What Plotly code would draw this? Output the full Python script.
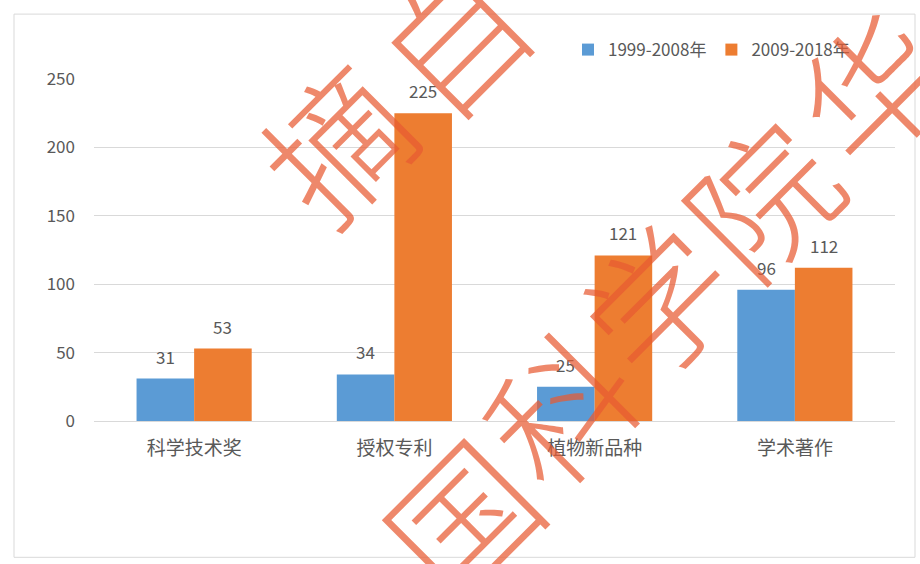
import plotly.graph_objects as go

categories = ["科学技术奖", "授权专利", "植物新品种", "学术著作"]
series_names = ["1999-2008年", "2009-2018年"]
values_1999_2008 = [31, 34, 25, 96]
values_2009_2018 = [53, 225, 121, 112]
y_ticks = [0, 50, 100, 150, 200, 250]
watermark_chars = ["摘", "自", "国", "科", "学", "院", "华"]

W, H = 920, 564
L, R, T, B = 94, 25, 79, 142.5
PW, PH = W - L - R, H - T - B

def px(x):
    return (x - L) / PW

def py(y):
    return (H - B - y) / PH

BLUE = "#5B9BD5"
ORANGE = "#ED7D31"
GRAY = "#595959"
FONT = "Noto Sans CJK SC"

fig = go.Figure()
fig.add_trace(go.Bar(x=categories, y=values_1999_2008, name=series_names[0],
                     marker=dict(color=BLUE, line=dict(width=0))))
fig.add_trace(go.Bar(x=categories, y=values_2009_2018, name=series_names[1],
                     marker=dict(color=ORANGE, line=dict(width=0))))

annotations = []
bar_w = (1 - 0.425) / 2
for i, (a, b) in enumerate(zip(values_1999_2008, values_2009_2018)):
    for off, v in ((-bar_w / 2, a), (bar_w / 2, b)):
        annotations.append(dict(x=i + off, y=v, xref="x", yref="y", text=str(v),
                                showarrow=False, yanchor="bottom", yshift=8,
                                font=dict(family=FONT, size=17, color=GRAY)))

# watermark characters (pixel centres)
wm_pos = [(334, 140), (450, 36), (458, 515), (556, 405), (654, 298), (758, 195), (868, 84)]
for ch, (cx, cy) in zip(watermark_chars, wm_pos):
    annotations.append(dict(x=px(cx), y=py(cy), xref="paper", yref="paper", text=ch,
                            showarrow=False, textangle=-45, xanchor="center", yanchor="middle",
                            font=dict(family=FONT, size=142, color="rgba(232,90,50,0.72)", weight=300)))

fig.update_layout(
    width=W, height=H,
    margin=dict(l=L, r=R, t=T, b=B),
    paper_bgcolor="white", plot_bgcolor="white",
    barmode="group", bargap=0.425, bargroupgap=0,
    font=dict(family=FONT, color=GRAY),
    showlegend=True,
    legend=dict(orientation="h", x=px(568), y=py(50), xanchor="left", yanchor="middle",
                font=dict(family=FONT, size=17, color=GRAY), itemwidth=30,
                bgcolor="rgba(0,0,0,0)"),
    annotations=annotations,
    shapes=[dict(type="rect", xref="paper", yref="paper", x0=px(14), x1=px(915),
                 y0=py(558), y1=py(14), line=dict(color="#D9D9D9", width=1), layer="below")],
)
fig.update_xaxes(showgrid=False, showline=False, ticks="", zeroline=False,
                 tickfont=dict(family=FONT, size=19, color=GRAY), ticklabelstandoff=14)
fig.update_yaxes(range=[0, 250], tickvals=y_ticks, showgrid=True, gridcolor="#D9D9D9",
                 gridwidth=1, zeroline=True, zerolinecolor="#D9D9D9", zerolinewidth=1,
                 showline=False, ticks="", tickfont=dict(family=FONT, size=17, color=GRAY),
                 ticklabelstandoff=18)

fig.write_html("out.html")
